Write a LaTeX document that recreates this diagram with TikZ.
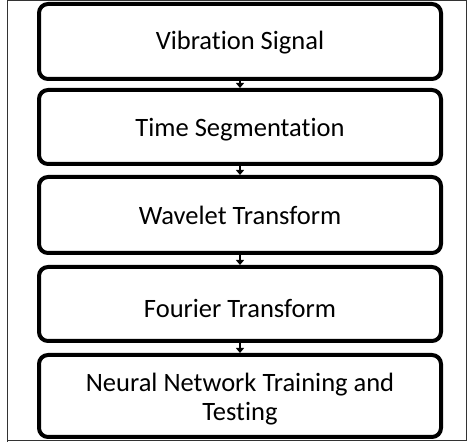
\documentclass[tikz,border=0pt]{standalone}
\usepackage{fontspec}
\setmainfont{Carlito}[Ligatures={NoCommon}]
\usetikzlibrary{arrows.meta}
\newcommand{\lowertext}[2]{\raisebox{-#1}[\height][\depth]{#2}}
\begin{document}
\begin{tikzpicture}[x=1pt,y=-1pt,
  stepbox/.style={draw=black,line width=4pt,rounded corners=9pt,minimum width=402pt,
    align=center,font=\fontsize{26.5}{29}\selectfont,inner sep=0pt,fill=white},
  conn/.style={-{Triangle[length=5pt,width=8pt]},line width=2pt,shorten <=-2pt}]
\useasboundingbox (0,0) rectangle (467,443);
\draw[line width=1pt,black!80] (7,442) -- (7,1) -- (466.5,1) -- (466.5,440.5) -- (7,440.5);
\node[stepbox,minimum height=75pt] (b1) at (240,41.5) {\lowertext{1pt}{Vibration Signal}};
\node[stepbox,minimum height=74pt] (b2) at (240,127) {\lowertext{3pt}{Time Segmentation}};
\node[stepbox,minimum height=76pt] (b3) at (240,215) {\lowertext{0.5pt}{Wavelet Transform}};
\node[stepbox,minimum height=74pt] (b4) at (240,304) {\lowertext{4.5pt}{Fourier Transform}};
\node[stepbox,minimum height=82pt] (b5) at (240,396) {\lowertext{4.5pt}{\begin{tabular}{@{}c@{}}Neural Network Training and\\Testing\end{tabular}}};
\draw[conn] (b1.south) -- (b2.north);
\draw[conn] (b2.south) -- (b3.north);
\draw[conn] (b3.south) -- (b4.north);
\draw[conn] (b4.south) -- (b5.north);
\end{tikzpicture}
\end{document}
